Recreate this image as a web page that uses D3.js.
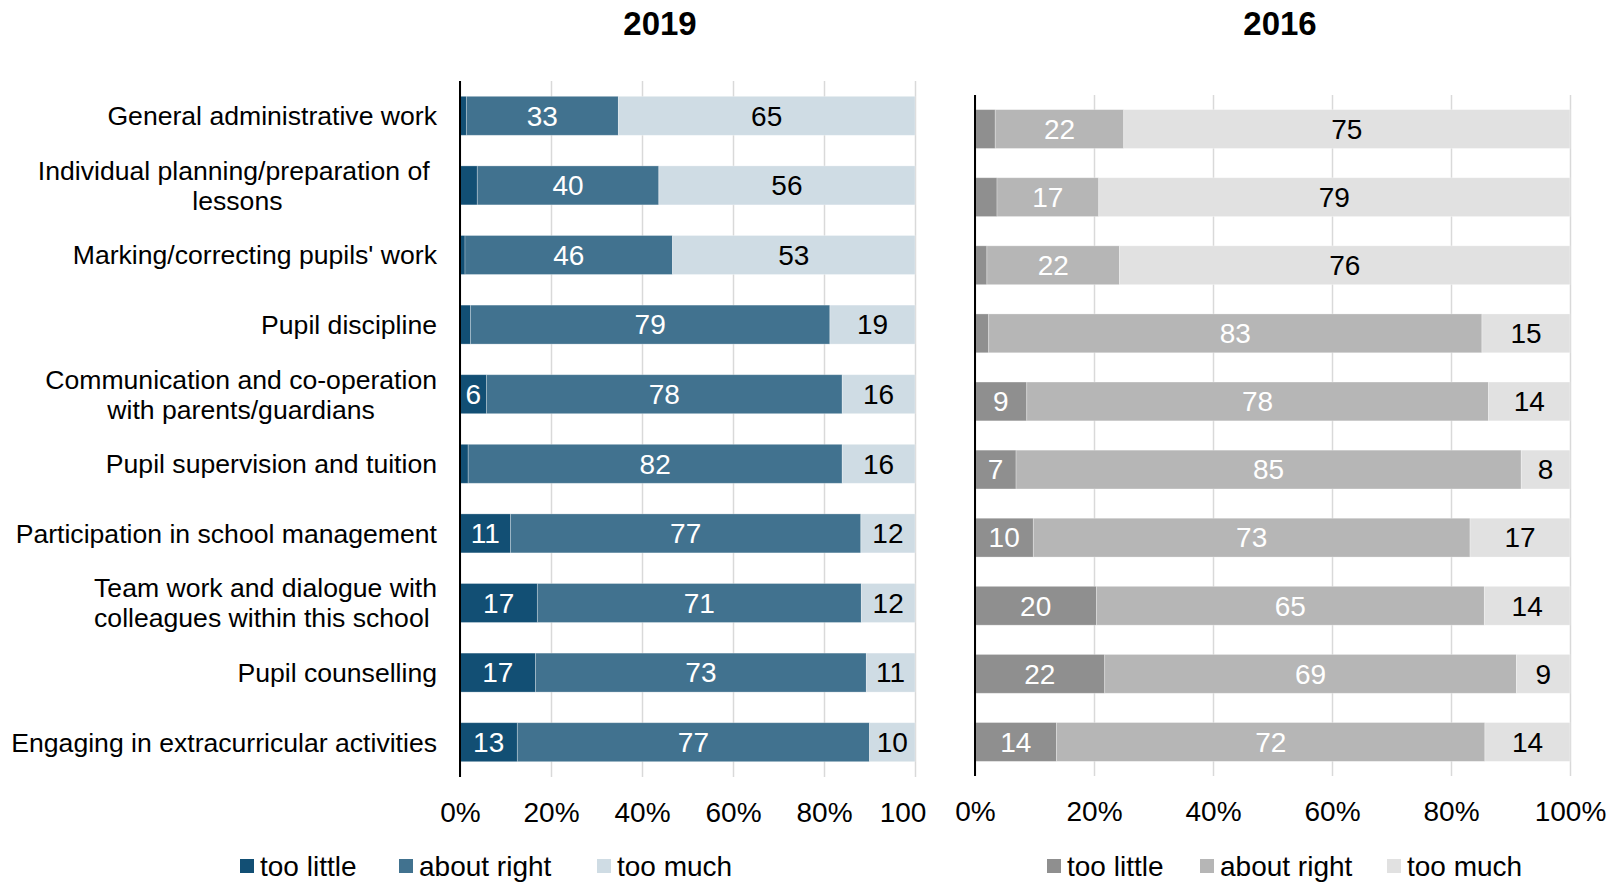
<!DOCTYPE html>
<html>
<head>
<meta charset="utf-8">
<script src="https://cdn.jsdelivr.net/npm/d3@7/dist/d3.min.js"></script>
<style>
  body { margin: 0; background: #fff; }
  svg text { font-family: "Liberation Sans", Arial, sans-serif; }
</style>
</head>
<body>
<svg id="chart" width="1614" height="883"></svg>
<script>

// category labels, one array of lines per row
const categoryLines = [
  ["General administrative work"],
  ["Individual planning/preparation of ", "lessons"],
  ["Marking/correcting pupils' work"],
  ["Pupil discipline"],
  ["Communication and co-operation", "with parents/guardians"],
  ["Pupil supervision and tuition"],
  ["Participation in school management"],
  ["Team work and dialogue with", "colleagues within this school "],
  ["Pupil counselling"],
  ["Engaging in extracurricular activities"]
];
const categories = categoryLines.map(l => l.join(" "));

const seriesNames = ["too little", "about right", "too much"];
const tickValues = [0, 20, 40, 60, 80, 100];

// 2019 (percent)
const tooLittle2019  = [1.4, 3.8, 1.1, 2.3, 5.8, 1.8, 11.1, 17.0, 16.6, 12.6];
const aboutRight2019 = [33.4, 39.9, 45.6, 79.0, 78.2, 82.2, 77.0, 71.2, 72.7, 77.4];
const tooMuch2019    = [65.2, 56.3, 53.3, 18.7, 16.0, 16.0, 11.9, 11.8, 10.7, 10.0];

// 2016 (percent)
const tooLittle2016  = [3.4, 3.7, 2.0, 2.3, 8.7, 6.9, 9.8, 20.4, 21.8, 13.7];
const aboutRight2016 = [21.6, 17.1, 22.3, 82.9, 77.6, 84.9, 73.4, 65.2, 69.2, 72.0];
const tooMuch2016    = [75.0, 79.2, 75.7, 14.8, 13.7, 8.2, 16.8, 14.4, 9.0, 14.3];

const svg = d3.select("#chart");

function buildRows(a, b, c) {
  return categories.map((cat, i) => ({
    category: cat, "too little": a[i], "about right": b[i], "too much": c[i]
  }));
}

function drawPanel(cfg) {
  const rows = buildRows(cfg.a, cfg.b, cfg.c);

  const x = d3.scaleLinear().domain([0, 100]).range([0, cfg.width]);
  const y = d3.scaleBand().domain(categories).range([0, cfg.height])
    .paddingInner(cfg.pad).paddingOuter(cfg.pad / 2);
  const color = d3.scaleOrdinal().domain(seriesNames).range(cfg.colors);

  const g = svg.append("g").attr("transform", `translate(${cfg.left},${cfg.top})`);

  // gridlines
  g.append("g")
    .attr("transform", `translate(0,${cfg.height})`)
    .call(d3.axisBottom(x).tickValues(tickValues).tickSize(-cfg.height).tickFormat(""))
    .call(s => s.select(".domain").remove())
    .call(s => s.selectAll("line").attr("stroke", "#d9d9d9").attr("stroke-width", 1.5));

  const stacked = d3.stack().keys(seriesNames)(rows);

  const layer = g.selectAll(".layer")
    .data(stacked)
    .enter().append("g")
    .attr("class", "layer")
    .attr("fill", d => color(d.key));

  layer.selectAll("rect")
    .data(d => d)
    .enter().append("rect")
    .attr("x", d => x(d[0]))
    .attr("y", d => y(d.data.category))
    .attr("width", d => x(d[1]) - x(d[0]))
    .attr("height", y.bandwidth())
    .attr("stroke", "#fff")
    .attr("stroke-opacity", 0.35)
    .attr("stroke-width", 0.8);

  // value labels
  layer.selectAll("text")
    .data(d => d.map(v => ({ v: v, key: d.key })))
    .enter().filter(d => d.v[1] - d.v[0] >= 5)
    .append("text")
    .attr("x", d => x((d.v[0] + d.v[1]) / 2))
    .attr("y", d => y(d.v.data.category) + y.bandwidth() / 2)
    .attr("dy", "0.35em")
    .attr("text-anchor", "middle")
    .attr("font-size", 28)
    .attr("fill", d => d.key === "too much" ? "#000" : "#fff")
    .text(d => Math.round(d.v[1] - d.v[0]));

  // vertical axis line
  g.append("line")
    .attr("x1", 0).attr("x2", 0)
    .attr("y1", 0).attr("y2", cfg.height)
    .attr("stroke", "#000").attr("stroke-width", 2);

  // x tick labels
  const clipId = "clip-" + cfg.title;
  svg.append("clipPath").attr("id", clipId)
    .append("rect")
    .attr("x", -cfg.left).attr("y", 0)
    .attr("width", cfg.clipRight).attr("height", 100);

  g.append("g")
    .attr("transform", `translate(0,${cfg.height})`)
    .attr("clip-path", `url(#${clipId})`)
    .call(d3.axisBottom(x).tickValues(tickValues).tickSize(0).tickPadding(cfg.tickPad)
      .tickFormat(d => d + "%"))
    .call(s => s.select(".domain").remove())
    .call(s => s.selectAll("text")
      .attr("font-size", 28).attr("fill", "#000")
      .style("font-family", "'Liberation Sans', Arial, sans-serif"));

  // title
  svg.append("text")
    .attr("x", cfg.titleX).attr("y", 35)
    .attr("text-anchor", "middle")
    .attr("font-size", 33).attr("font-weight", "bold")
    .text(cfg.title);

  // legend
  const leg = svg.append("g");
  seriesNames.forEach((name, i) => {
    leg.append("rect")
      .attr("x", cfg.legendX[i]).attr("y", 859)
      .attr("width", 14).attr("height", 14)
      .attr("fill", color(name));
    leg.append("text")
      .attr("x", cfg.legendX[i] + 20).attr("y", 866)
      .attr("dy", "0.35em")
      .attr("font-size", 28)
      .text(name);
  });

  return { x, y, g };
}

const left = drawPanel({
  title: "2019", titleX: 660,
  left: 460, top: 81, width: 455, height: 696, pad: 0.44,
  a: tooLittle2019, b: aboutRight2019, c: tooMuch2019,
  colors: ["#124f74", "#41728f", "#cfdce4"],
  tickPad: 25, clipRight: 926,
  legendX: [240, 399, 597]
});

drawPanel({
  title: "2016", titleX: 1280,
  left: 975, top: 95, width: 595, height: 681, pad: 0.43,
  a: tooLittle2016, b: aboutRight2016, c: tooMuch2016,
  colors: ["#8f8f8f", "#b6b6b6", "#e1e1e1"],
  tickPad: 25, clipRight: 1614,
  legendX: [1047, 1200, 1387]
});

// category labels on the left panel
const lineH = 30;
const labels = svg.append("g");
categoryLines.forEach((lines, i) => {
  const cy = 81 + left.y(categories[i]) + left.y.bandwidth() / 2;
  const t = labels.append("text")
    .attr("font-size", 26.6)
    .attr("fill", "#000")
    .style("white-space", "pre");
  lines.forEach(ln => {
    t.append("tspan").text(ln);
  });
  const widths = [];
  t.selectAll("tspan").each(function () { widths.push(this.getComputedTextLength()); });
  const maxW = d3.max(widths);
  const cx = 437 - maxW / 2;
  t.selectAll("tspan")
    .attr("x", cx)
    .attr("y", (d, j) => cy + (j - (lines.length - 1) / 2) * lineH)
    .attr("dy", "0.35em")
    .attr("text-anchor", "middle");
});

</script>
</body>
</html>
